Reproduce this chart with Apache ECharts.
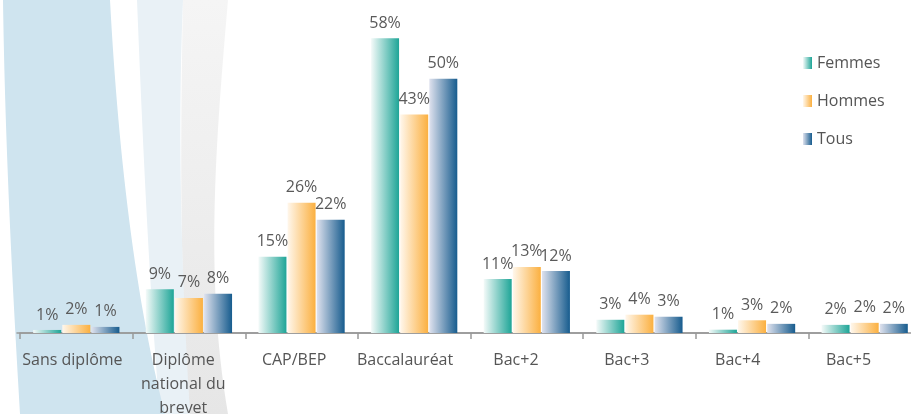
<!DOCTYPE html>
<html>
<head>
<meta charset="utf-8">
<script src="https://cdn.jsdelivr.net/npm/echarts@6/dist/echarts.min.js"></script>
<style>html,body{margin:0;padding:0;background:#fff;}#c{width:911px;height:414px;}</style>
</head>
<body>
<div id="c"></div>
<script>
var categories = ['Sans diplôme', 'Diplôme\nnational du\nbrevet', 'CAP/BEP', 'Baccalauréat', 'Bac+2', 'Bac+3', 'Bac+4', 'Bac+5'];
var femmes = [0.6, 8.6, 15.0, 58.0, 10.6, 2.6, 0.65, 1.6];
var hommes = [1.6, 6.9, 25.6, 43.0, 13.0, 3.6, 2.5, 2.0];
var tous   = [1.2, 7.7, 22.3, 50.0, 12.2, 3.2, 1.8, 1.8];

var FONT = '"Open Sans", sans-serif';
function grad(c0, c1) {
  return { type: 'linear', x: 0, y: 0, x2: 1, y2: 0, colorStops: [{ offset: 0, color: c0 }, { offset: 1, color: c1 }] };
}
function cubic(p0, p1, p2, p3, n) {
  var pts = [];
  for (var i = 0; i <= n; i++) {
    var t = i / n, u = 1 - t;
    pts.push([
      u*u*u*p0[0] + 3*u*u*t*p1[0] + 3*u*t*t*p2[0] + t*t*t*p3[0],
      u*u*u*p0[1] + 3*u*u*t*p1[1] + 3*u*t*t*p2[1] + t*t*t*p3[1]
    ]);
  }
  return pts;
}
function band(l, r) {
  var left = cubic(l[0], l[1], l[2], l[3], 30);
  var right = cubic(r[0], r[1], r[2], r[3], 30).reverse();
  return left.concat(right);
}
var label = {
  show: true, position: 'top', distance: 7,
  color: '#5a5a5a', fontSize: 16, fontFamily: FONT,
  formatter: function (p) { return Math.round(p.value) + '%'; }
};
function bar(name, data, color) {
  return {
    name: name, type: 'bar', data: data, xAxisIndex: 1, yAxisIndex: 1,
    barWidth: 28, barGap: '4%', z: 5,
    itemStyle: { color: color }, label: label
  };
}
var chart = echarts.init(document.getElementById('c'));
chart.setOption({
  animation: false,
  graphic: [
    { type: 'polygon', z: -11, silent: true,
      shape: { points: band([[183,0],[180,150],[180,300],[190,414]], [[228,0],[215,150],[205,280],[228,414]]) },
      style: { fill: { type: 'linear', x: 0, y: 0, x2: 0, y2: 1, colorStops: [{ offset: 0, color: '#f5f5f5' }, { offset: 1, color: '#e6e6e6' }] } } },
    { type: 'polygon', z: -11, silent: true,
      shape: { points: band([[137,0],[143,150],[150,300],[160,414]], [[183,0],[178,120],[180,250],[190,414]]) },
      style: { fill: '#e9f1f6' } },
    { type: 'polygon', z: -10, silent: true,
      shape: { points: band([[3,0],[5,140],[12,280],[20,414]], [[110,0],[118,150],[135,300],[165,414]]) },
      style: { fill: '#cfe4ef' } }
  ],
  legend: {
    orient: 'vertical', left: 798, top: 50,
    itemWidth: 9, itemHeight: 12, itemGap: 22, icon: 'rect',
    textStyle: { color: '#555', fontSize: 16, fontFamily: FONT },
    data: ['Femmes', 'Hommes', 'Tous']
  },
  grid: [
    { left: 17, width: 887, top: 28, height: 305, containLabel: false, outerBoundsMode: 'none' },
    { left: 20, width: 901, top: 28, height: 305, containLabel: false, outerBoundsMode: 'none' }
  ],
  xAxis: [
    { type: 'category', gridIndex: 0, data: categories,
      axisLine: { show: true, lineStyle: { color: '#999', width: 1.5 } },
      axisTick: { show: false },
      axisLabel: { interval: 0, margin: 15, color: '#555', fontSize: 16, lineHeight: 24, fontFamily: FONT } },
    { type: 'category', gridIndex: 1, data: categories,
      axisLine: { show: true, lineStyle: { color: '#999', width: 1.5 } },
      axisTick: { show: true, length: 6, lineStyle: { color: '#999', width: 1.5 } },
      axisLabel: { show: false } }
  ],
  yAxis: [
    { type: 'value', gridIndex: 0, min: 0, max: 60, show: false, splitLine: { show: false } },
    { type: 'value', gridIndex: 1, min: 0, max: 60, show: false, splitLine: { show: false } }
  ],
  series: [
    bar('Femmes', femmes, grad('#f4faf9', '#1ea597')),
    bar('Hommes', hommes, grad('#fff7ec', '#fbb040')),
    bar('Tous', tous, grad('#dfe2ee', '#175c8e'))
  ]
});
</script>
</body>
</html>
